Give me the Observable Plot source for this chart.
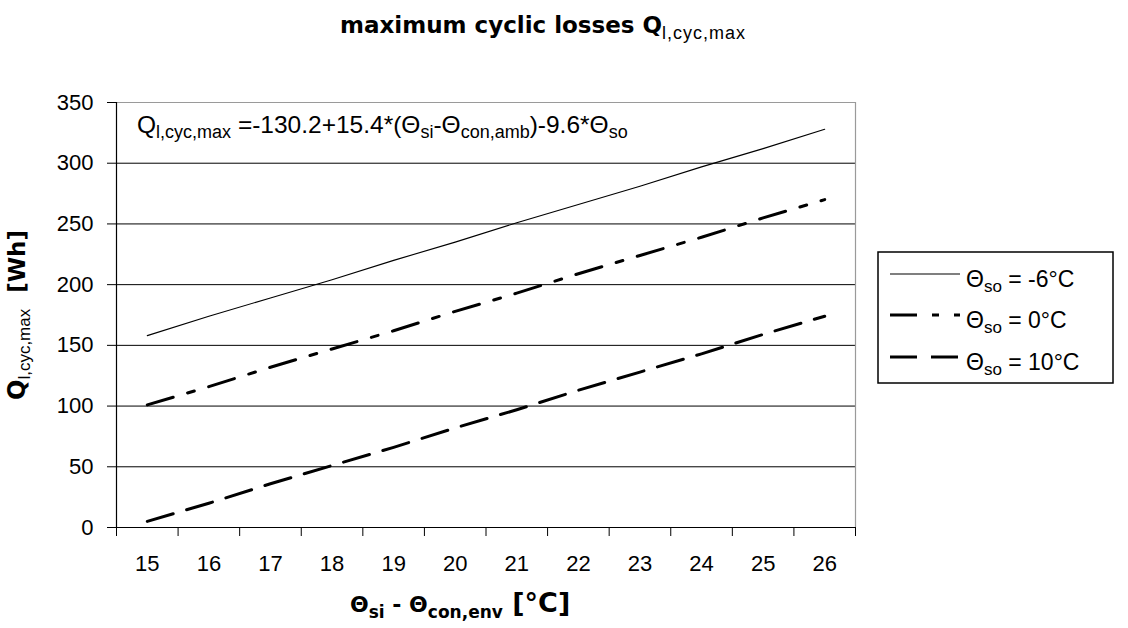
<!DOCTYPE html>
<html>
<head>
<meta charset="utf-8">
<script src="https://cdn.jsdelivr.net/npm/d3@7"></script>
<script src="https://cdn.jsdelivr.net/npm/@observablehq/plot@0.6"></script>
<style>
  html, body { margin: 0; padding: 0; background: #fff; }
  #chart svg text { white-space: pre; }
</style>
</head>
<body>
<div id="chart"></div>
<script>
// ---- data ----
const categories = [15, 16, 17, 18, 19, 20, 21, 22, 23, 24, 25, 26];
const lossMinus6 = [158, 174, 189, 204, 220, 235, 251, 266, 281, 297, 312, 328];
const lossZero   = [101, 116, 132, 147, 162, 178, 193, 209, 224, 239, 255, 270];
const lossTen    = [5, 20, 36, 51, 66, 82, 97, 113, 128, 143, 159, 174];
const seriesKeys = ["-6", "0", "10"];
const legendValues = ["-6°C", "0°C", "10°C"];
const yTicks = [0, 50, 100, 150, 200, 250, 300, 350];

const seriesValues = {"-6": lossMinus6, "0": lossZero, "10": lossTen};
const rows = [];
for (const k of seriesKeys) {
  categories.forEach((c, i) => rows.push({series: k, x: c, y: seriesValues[k][i]}));
}
const boundaries = categories.map(c => c - 0.5).concat([categories[categories.length - 1] + 0.5]);
const xMin = boundaries[0], xMax = boundaries[boundaries.length - 1];

const FONT = "'Liberation Sans', Arial, sans-serif";
const BOLDFONT = "'DejaVu Sans', Verdana, sans-serif";

const styles = {
  "-6": {stroke: "black", strokeWidth: 1.1},
  "0":  {stroke: "black", strokeWidth: 3, strokeDasharray: "27,15,7,15"},
  "10": {stroke: "black", strokeWidth: 3, strokeDasharray: "27,14"}
};

const chart = Plot.plot({
  width: 1128,
  height: 628,
  marginLeft: 116,
  marginRight: 273,
  marginTop: 102,
  marginBottom: 101,
  style: {fontFamily: FONT, fontSize: "22px", color: "black", background: "white"},
  x: {type: "linear", domain: [xMin, xMax]},
  y: {domain: [0, 350]},
  marks: [
    Plot.gridY({ticks: yTicks.filter(v => v > 0 && v < 350), stroke: "black", strokeOpacity: 1}),
    Plot.ruleY([350], {stroke: "#9a9a9a", strokeWidth: 1.2}),
    Plot.ruleX([xMax], {stroke: "#9a9a9a", strokeWidth: 1.2}),
    Plot.ruleY([0], {stroke: "black", strokeWidth: 1.2}),
    Plot.ruleX([xMin], {stroke: "black", strokeWidth: 1.2}),
    Plot.axisY({ticks: yTicks, tickSize: 9, tickPadding: 14, fontSize: 22, label: null, tickFormat: d => String(d)}),
    Plot.axisX({ticks: boundaries, tickSize: 9, tickFormat: () => "", label: null}),
    Plot.axisX({ticks: categories, tickSize: 0, tickPadding: 28, fontSize: 22, label: null, tickFormat: d => String(d)}),
    ...seriesKeys.map(k => Plot.line(rows.filter(r => r.series === k), {x: "x", y: "y", ...styles[k]}))
  ]
});
document.getElementById("chart").appendChild(chart);

// ---- rich text helpers ----
const svg = d3.select(chart);
function rich(parent, x, y, parts, anchor, family) {
  const t = parent.append("text")
    .attr("x", x).attr("y", y)
    .attr("font-family", family || FONT)
    .attr("fill", "black")
    .attr("text-anchor", anchor || "start")
    .style("white-space", "pre");
  let shift = 0;
  for (const [s, size, sub, weight, ls, fam] of parts) {
    const dy = sub - shift; shift = sub;
    const sp = t.append("tspan").attr("dy", dy).attr("font-size", size)
      .attr("font-weight", weight || "normal").text(s);
    if (ls) sp.attr("letter-spacing", ls);
    if (fam) sp.attr("font-family", fam);
  }
  return t;
}

// Title
rich(svg, 340, 33, [
  ["maximum cyclic losses Q", 23, 0, "bold", null, BOLDFONT],
  ["l,cyc,max", 18, 6, "normal", 1, FONT]
]);

// Formula annotation
rich(svg, 137, 133, [
  ["Q", 24.5, 0], ["l,cyc,max", 18, 5],
  [" =-130.2+15.4*(Θ", 24.5, 0], ["si", 18, 5],
  ["-Θ", 24.5, 0], ["con,amb", 18, 5],
  [")-9.6*Θ", 24.5, 0], ["so", 18, 5]
]);

// X axis title
rich(svg, 350, 612, [
  ["Θ", 22, 0, "bold"], ["si", 17, 6, "bold"],
  [" - Θ", 22, 0, "bold"], ["con,env", 17, 6, "bold"],
  [" [°C]", 27, 0, "bold"]
], "start", BOLDFONT);

// Y axis title (rotated)
const yg = svg.append("g").attr("transform", "translate(25,315) rotate(-90)");
rich(yg, 0, 0, [
  ["Q", 24, 0, "bold", null, BOLDFONT], ["l,cyc,max", 17, 5, "normal", null, FONT], ["  [Wh]", 23, 0, "bold", null, BOLDFONT]
], "middle");

// Legend
const lg = svg.append("g");
lg.append("rect").attr("x", 878).attr("y", 252).attr("width", 235).attr("height", 131)
  .attr("fill", "white").attr("stroke", "black").attr("stroke-width", 1.5);
const rowY = [274, 315, 357];
seriesKeys.forEach((k, i) => {
  const s = styles[k];
  lg.append("line").attr("x1", 890).attr("x2", 960).attr("y1", rowY[i]).attr("y2", rowY[i])
    .attr("stroke", s.stroke).attr("stroke-width", s.strokeWidth)
    .attr("stroke-dasharray", s.strokeDasharray || null);
  rich(lg, 966, rowY[i] + 13, [
    ["Θ", 23, 0], ["so", 17, 5], [" = " + legendValues[i], 23, 0]
  ]);
});
</script>
</body>
</html>
